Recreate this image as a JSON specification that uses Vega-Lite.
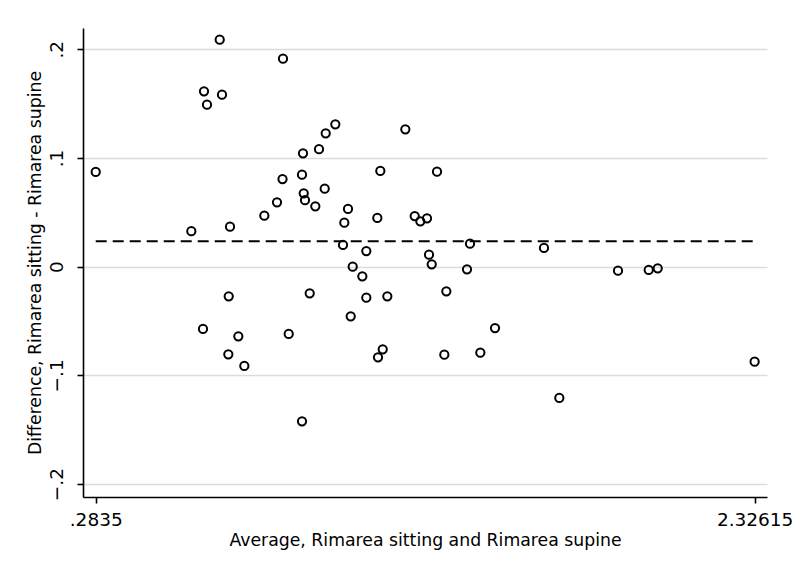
{
  "$schema": "https://vega.github.io/schema/vega-lite/v6.json",
  "width": 684,
  "height": 469,
  "autosize": {"type": "none"},
  "padding": {"left": 83, "top": 28, "right": 28, "bottom": 84},
  "background": "white",
  "config": {
    "view": {"stroke": null},
    "font": "DejaVu Sans"
  },
  "datasets": {
    "points": [
      {"avg": 0.2835, "diff": 0.0871},
      {"avg": 0.5799, "diff": 0.0326},
      {"avg": 0.6161, "diff": -0.0573},
      {"avg": 0.6192, "diff": 0.1613},
      {"avg": 0.6285, "diff": 0.1490},
      {"avg": 0.6679, "diff": 0.2087},
      {"avg": 0.6750, "diff": 0.1582},
      {"avg": 0.6958, "diff": -0.0272},
      {"avg": 0.6946, "diff": -0.0806},
      {"avg": 0.6998, "diff": 0.0368},
      {"avg": 0.7256, "diff": -0.0640},
      {"avg": 0.7442, "diff": -0.0913},
      {"avg": 0.8062, "diff": 0.0469},
      {"avg": 0.8455, "diff": 0.0592},
      {"avg": 0.8626, "diff": 0.0806},
      {"avg": 0.8641, "diff": 0.1913},
      {"avg": 0.8818, "diff": -0.0619},
      {"avg": 0.9230, "diff": 0.0846},
      {"avg": 0.9261, "diff": 0.1043},
      {"avg": 0.9283, "diff": 0.0675},
      {"avg": 0.9323, "diff": 0.0611},
      {"avg": 0.9230, "diff": -0.1422},
      {"avg": 0.9469, "diff": -0.0245},
      {"avg": 0.9643, "diff": 0.0555},
      {"avg": 0.9757, "diff": 0.1080},
      {"avg": 0.9934, "diff": 0.0717},
      {"avg": 0.9965, "diff": 0.1227},
      {"avg": 1.0263, "diff": 0.1309},
      {"avg": 1.0501, "diff": 0.0200},
      {"avg": 1.0542, "diff": 0.0405},
      {"avg": 1.0656, "diff": 0.0531},
      {"avg": 1.0740, "diff": -0.0456},
      {"avg": 1.0802, "diff": 0.0000},
      {"avg": 1.1100, "diff": -0.0088},
      {"avg": 1.1224, "diff": 0.0144},
      {"avg": 1.1224, "diff": -0.0285},
      {"avg": 1.1565, "diff": 0.0448},
      {"avg": 1.1586, "diff": -0.0833},
      {"avg": 1.1658, "diff": 0.0880},
      {"avg": 1.1732, "diff": -0.0760},
      {"avg": 1.1875, "diff": -0.0272},
      {"avg": 1.2433, "diff": 0.1263},
      {"avg": 1.2724, "diff": 0.0466},
      {"avg": 1.2898, "diff": 0.0417},
      {"avg": 1.3105, "diff": 0.0445},
      {"avg": 1.3167, "diff": 0.0110},
      {"avg": 1.3251, "diff": 0.0022},
      {"avg": 1.3415, "diff": 0.0874},
      {"avg": 1.3642, "diff": -0.0809},
      {"avg": 1.3704, "diff": -0.0226},
      {"avg": 1.4345, "diff": -0.0024},
      {"avg": 1.4438, "diff": 0.0211},
      {"avg": 1.4758, "diff": -0.0791},
      {"avg": 1.5213, "diff": -0.0564},
      {"avg": 1.6732, "diff": 0.0172},
      {"avg": 1.7207, "diff": -0.1207},
      {"avg": 1.9026, "diff": -0.0037},
      {"avg": 1.9978, "diff": -0.0030},
      {"avg": 2.0257, "diff": -0.0015},
      {"avg": 2.32615, "diff": -0.0874}
    ],
    "meanline": [
      {"xmin": 0.2835, "xmax": 2.32615, "mean": 0.0234}
    ]
  },
  "layer": [
    {
      "data": {"name": "points"},
      "mark": {"type": "point", "shape": "circle", "filled": false, "color": "black", "strokeWidth": 2, "size": 68, "opacity": 1},
      "encoding": {
        "x": {
          "field": "avg",
          "type": "quantitative",
          "scale": {"domain": [0.2441, 2.3645], "nice": false, "zero": false},
          "axis": {
            "title": "Average, Rimarea sitting and Rimarea supine",
            "values": [0.2835, 2.32615],
            "labelExpr": "datum.value < 1 ? replace(format(datum.value, '.4f'), '0.', '.') : format(datum.value, '.5f')",
            "grid": false,
            "domainColor": "black",
            "domainWidth": 1.6,
            "tickColor": "black",
            "tickWidth": 1.6,
            "tickSize": 6,
            "labelFontSize": 18.5,
            "labelColor": "black",
            "labelPadding": 7,
            "labelFont": "DejaVu Sans",
            "titleFont": "DejaVu Sans",
            "titleFontSize": 17.3,
            "titleFontWeight": "normal",
            "titleColor": "black",
            "titlePadding": 3
          }
        },
        "y": {
          "field": "diff",
          "type": "quantitative",
          "scale": {"domain": [-0.2118, 0.2195], "nice": false, "zero": false},
          "axis": {
            "title": "Difference, Rimarea sitting - Rimarea supine",
            "values": [-0.2, -0.1, 0, 0.1, 0.2],
            "labelExpr": "datum.value == 0 ? '0' : replace(format(datum.value, '.1f'), '0.', '.')",
            "grid": true,
            "gridColor": "#dcdcdc",
            "gridWidth": 1.5,
            "domainColor": "black",
            "domainWidth": 1.6,
            "tickColor": "black",
            "tickWidth": 1.6,
            "tickSize": 6,
            "labelAngle": -90,
            "labelAlign": "center",
            "labelBaseline": "bottom",
            "labelFontSize": 18.5,
            "labelColor": "black",
            "labelPadding": 11,
            "labelFont": "DejaVu Sans",
            "titleFont": "DejaVu Sans",
            "titleFontSize": 17.3,
            "titleFontWeight": "normal",
            "titleColor": "black",
            "titlePadding": 3
          }
        }
      }
    },
    {
      "data": {"name": "meanline"},
      "mark": {"type": "rule", "color": "black", "strokeWidth": 2, "strokeDash": [11, 6]},
      "encoding": {
        "x": {"field": "xmin", "type": "quantitative"},
        "x2": {"field": "xmax"},
        "y": {"field": "mean", "type": "quantitative"}
      }
    }
  ]
}
